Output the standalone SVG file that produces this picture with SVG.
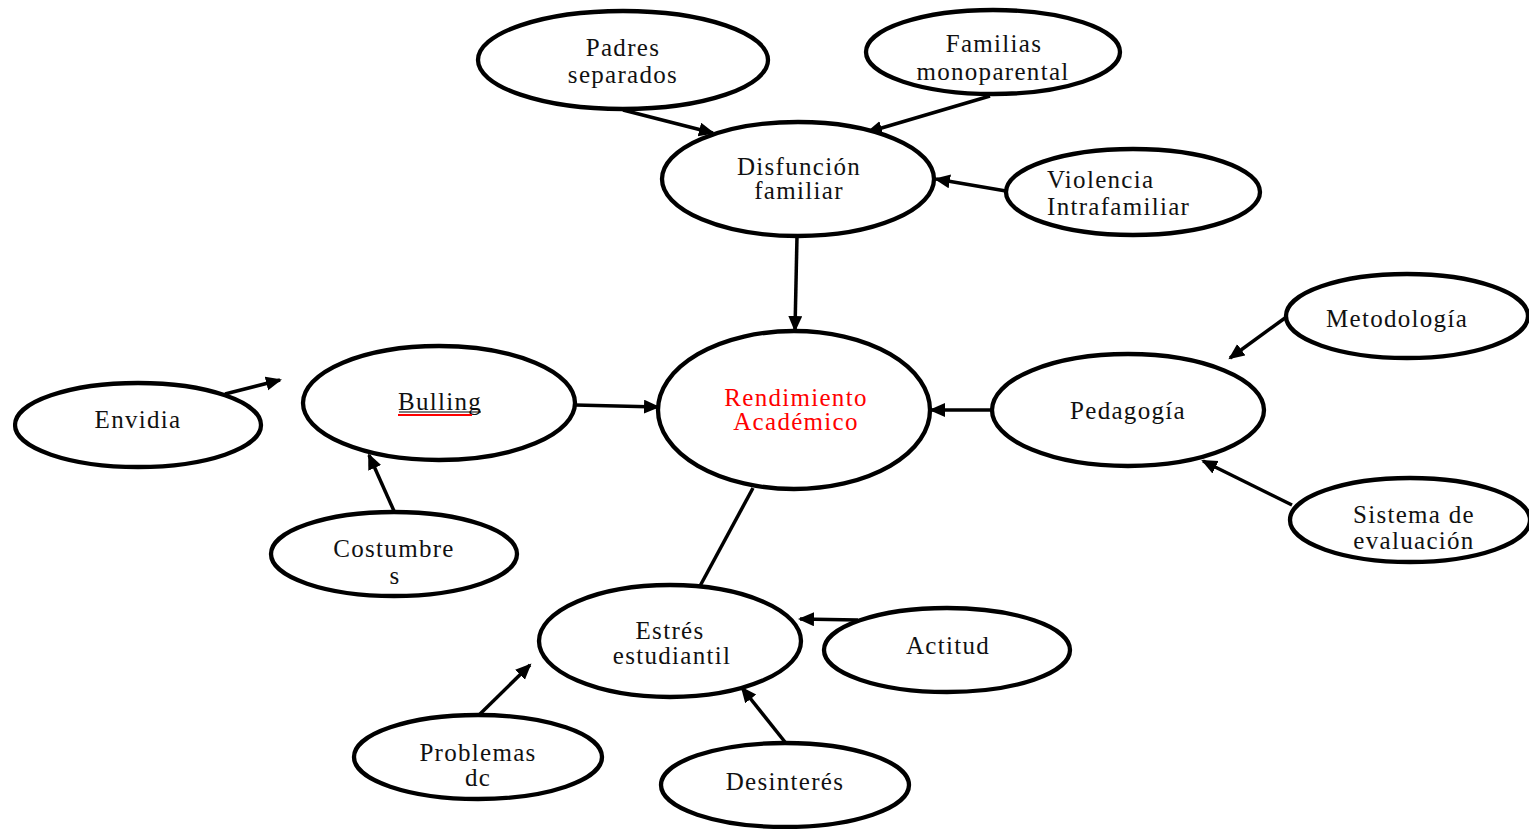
<svg xmlns="http://www.w3.org/2000/svg" width="1529" height="829" viewBox="0 0 1529 829">
<style>
.n ellipse{fill:#fff;stroke:#000;stroke-width:4.3}
.t{font-family:"Liberation Serif","Times New Roman",serif;font-size:25px;letter-spacing:1.3px;fill:#111;text-anchor:middle}
.l{text-anchor:start}
.red{fill:#ff0000}
#connectors line{stroke:#000;stroke-width:3.5;fill:none}
</style>
<defs>
<marker id="ah" markerUnits="userSpaceOnUse" markerWidth="18" markerHeight="16" refX="14" refY="7" orient="auto">
<path d="M0,0 L16,7 L0,14 z" fill="#000"/>
</marker>
</defs>
<rect width="1529" height="829" fill="#fff"/>
<g id="connectors">
<line x1="623" y1="110" x2="713" y2="133" marker-end="url(#ah)"/>
<line x1="990" y1="96" x2="868" y2="132" marker-end="url(#ah)"/>
<line x1="1006" y1="191" x2="936" y2="179" marker-end="url(#ah)"/>
<line x1="797" y1="236" x2="795" y2="330" marker-end="url(#ah)"/>
<line x1="225" y1="394" x2="280" y2="380" marker-end="url(#ah)"/>
<line x1="575" y1="405" x2="658" y2="407" marker-end="url(#ah)"/>
<line x1="394" y1="511" x2="369" y2="455" marker-end="url(#ah)"/>
<line x1="992" y1="410" x2="931" y2="410" marker-end="url(#ah)"/>
<line x1="1285" y1="318" x2="1230" y2="358" marker-end="url(#ah)"/>
<line x1="1292" y1="505" x2="1203" y2="461" marker-end="url(#ah)"/>
<line x1="753" y1="488" x2="700" y2="586"/>
<line x1="858" y1="620" x2="800" y2="619" marker-end="url(#ah)"/>
<line x1="479" y1="715" x2="530" y2="665" marker-end="url(#ah)"/>
<line x1="785" y1="742" x2="742" y2="688" marker-end="url(#ah)"/>
</g>
<g id="padres" class="n"><ellipse cx="623" cy="60" rx="145" ry="49"/><text class="t" x="623" y="56">Padres</text><text class="t" x="623" y="83">separados</text></g>
<g id="familias" class="n"><ellipse cx="993" cy="52" rx="127" ry="42"/><text class="t" x="994" y="52">Familias</text><text class="t" x="993" y="80">monoparental</text></g>
<g id="disfuncion" class="n"><ellipse cx="798" cy="179" rx="136" ry="57"/><text class="t" x="799" y="175">Disfunción</text><text class="t" x="799" y="199">familiar</text></g>
<g id="violencia" class="n"><ellipse cx="1133" cy="192" rx="127" ry="43"/><text class="t l" x="1047" y="188">Violencia</text><text class="t l" x="1047" y="215">Intrafamiliar</text></g>
<g id="rendimiento" class="n"><ellipse cx="794" cy="410" rx="136" ry="79"/><text class="t red" x="796" y="406">Rendimiento</text><text class="t red" x="796" y="430">Académico</text></g>
<g id="bulling" class="n"><ellipse cx="439" cy="403" rx="136" ry="57"/><text class="t" x="440" y="410">Bulling</text><line x1="399" y1="412" x2="481" y2="412" stroke="#000" stroke-width="1.2"/><line x1="398" y1="415" x2="472" y2="415" stroke="#ff0000" stroke-width="2"/></g>
<g id="envidia" class="n"><ellipse cx="138" cy="425" rx="123" ry="42"/><text class="t" x="138" y="428">Envidia</text></g>
<g id="costumbres" class="n"><ellipse cx="394" cy="554" rx="123" ry="42"/><text class="t" x="394" y="557">Costumbre</text><text class="t" x="395" y="584">s</text></g>
<g id="pedagogia" class="n"><ellipse cx="1128" cy="410" rx="136" ry="56"/><text class="t" x="1128" y="419">Pedagogía</text></g>
<g id="metodologia" class="n"><ellipse cx="1407" cy="316" rx="121" ry="42"/><text class="t" x="1397" y="327">Metodología</text></g>
<g id="sistema" class="n"><ellipse cx="1410" cy="520" rx="120" ry="42"/><text class="t" x="1414" y="523">Sistema de</text><text class="t" x="1414" y="549">evaluación</text></g>
<g id="estres" class="n"><ellipse cx="670" cy="641" rx="131" ry="56"/><text class="t" x="670" y="639">Estrés</text><text class="t" x="672" y="664">estudiantil</text></g>
<g id="actitud" class="n"><ellipse cx="947" cy="650" rx="123" ry="42"/><text class="t" x="948" y="654">Actitud</text></g>
<g id="problemas" class="n"><ellipse cx="478" cy="757" rx="124" ry="42"/><text class="t" x="478" y="761">Problemas</text><text class="t" x="478" y="786">dc</text></g>
<g id="desinteres" class="n"><ellipse cx="785" cy="785" rx="124" ry="42"/><text class="t" x="785" y="790">Desinterés</text></g>
<rect x="0" y="0" width="13" height="829" fill="#fff"/>
</svg>
